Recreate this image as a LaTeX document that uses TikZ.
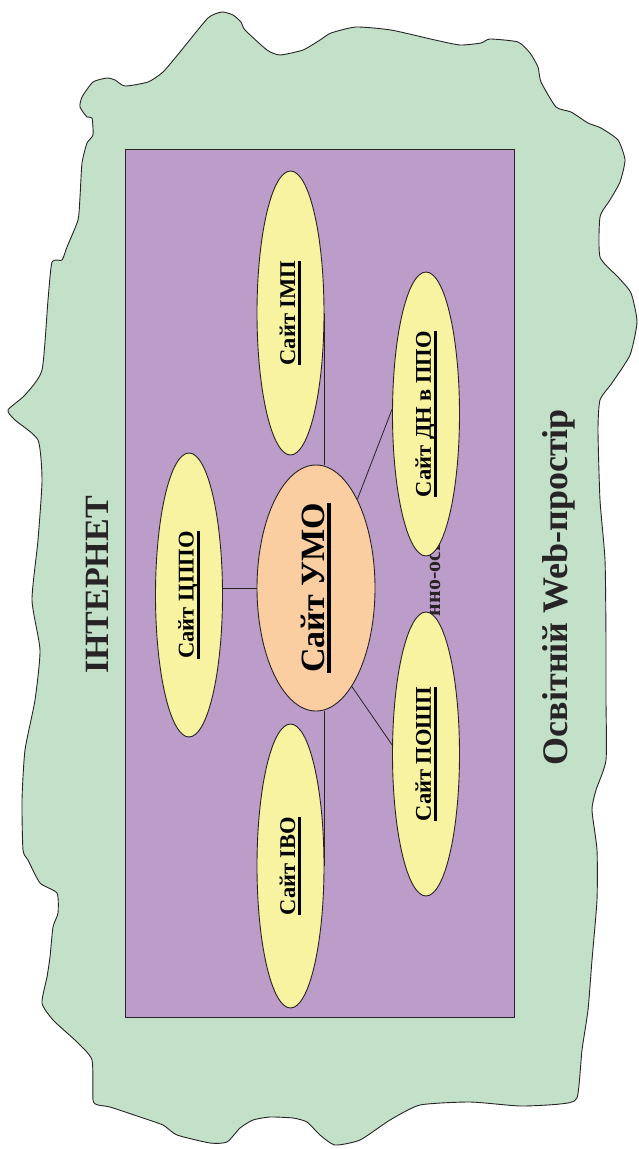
\documentclass[tikz,border=0pt]{standalone}
\usepackage{fontspec}
\setmainfont{Liberation Serif}
\usepackage{graphicx}
\usetikzlibrary{shapes.geometric}
\definecolor{blobgreen}{RGB}{194,225,200}
\definecolor{boxpurple}{RGB}{188,157,201}
\definecolor{siteyellow}{RGB}{248,243,160}
\definecolor{umoorange}{RGB}{250,206,160}
\definecolor{edge}{RGB}{40,36,38}
\newcommand{\thul}[3]{\setbox0=\hbox{#1}\rlap{\copy0}\rule[-#2]{\wd0}{#3}}
\begin{document}
\begin{tikzpicture}[x=1pt,y=-1pt,
  site/.style={ellipse, draw=edge, line width=0.9pt, fill=siteyellow,
    minimum width=67pt, minimum height=284pt, inner sep=0pt,
    font=\fontsize{22.5}{26}\selectfont\bfseries},
  link/.style={draw=edge, line width=0.8pt},
  bigtext/.style={inner sep=0pt, text=edge}]
\useasboundingbox (0,0) rectangle (638,1149);
% green cloud
\draw[fill=blobgreen, draw=edge, line width=0.9pt]
  plot[smooth cycle, tension=0.35] coordinates {
  (80,107) (82,97) (93,82) (107,78) (115,80) (125,86) (148,82) (163,72) (180,52)
  (208,18) (222,12) (233,15) (241,22) (245,30) (267,50) (280,55) (303,50) (320,40)
  (331,33) (356,27) (391,30) (435,40) (460,45) (481,43) (490,39) (518,42) (530,53)
  (538,67) (541,82) (556,107) (571,112) (588,123) (601,128) (618,140) (625,160)
  (620,182) (610,200) (600,217) (600,257) (618,277) (631,293)
  (637,322) (630,355) (612,383) (600,400) (598,430) (600,500) (605,560) (606,640)
  (606,700) (606,760) (596,790) (592,810) (597,850) (597,900) (592,960) (588,1010)
  (582,1050) (577,1098) (560,1104) (520,1106) (470,1102) (420,1105) (390,1120)
  (360,1140) (335,1145) (320,1135)
  (307,1122) (293,1118) (270,1117) (253,1120) (240,1128) (227,1142) (210,1143)
  (177,1135) (163,1125) (140,1117) (110,1107) (98,1105) (93,1100) (92,1060)
  (77,1042) (53,1020) (42,1003) (47,977) (50,957) (53,927) (58,913) (57,893)
  (40,883) (28,860) (23,850)
  (22,800) (25,750) (35,700) (40,650) (32,600) (38,540) (42,480) (38,440)
  (15,420) (8,410) (25,395) (42,370) (48,300) (52,262) (62,260) (67,247)
  (78,220) (80,197) (82,163) (87,143) (93,135) (92,118) (87,117)};
% purple box
\node[draw=edge, line width=0.9pt, fill=boxpurple, inner sep=0pt, anchor=north west,
  minimum width=389pt, minimum height=868pt] (box) at (125,149) {};
% titles
\node[bigtext, font=\fontsize{34}{40}\selectfont\bfseries] (inet) at (97,585)
  {\rotatebox{90}{ІНТЕРНЕТ}};
\node[bigtext, font=\fontsize{36}{42}\selectfont\bfseries] (web) at (559,587)
  {\rotatebox{90}{Освітній Web-простір}};
% partly hidden label
\node[bigtext, font=\fontsize{22}{26}\selectfont\bfseries] (hid) at (435,578)
  {\rotatebox{90}{нно-осв}};
% sites
\node[ellipse, draw=edge, line width=0.9pt, fill=umoorange, minimum width=118pt,
  minimum height=246pt, inner sep=0pt, font=\fontsize{34}{40}\selectfont\bfseries]
  (umo) at (316,588) {\rotatebox{90}{\thul{Сайт УМО}{7pt}{4pt}}};
\node[site] (imp) at (290.5,313) {\rotatebox{90}{\thul{Сайт ІМП}{6pt}{3pt}}};
\node[site] (dn) at (426,414) {\rotatebox{90}{\thul{Сайт ДН в ППО}{6pt}{3pt}}};
\node[site] (posh) at (426,754) {\rotatebox{90}{\thul{Сайт ПОШП}{6pt}{3pt}}};
\node[site] (cppo) at (189,595) {\rotatebox{90}{\thul{Сайт ЦППО}{6pt}{3pt}}};
\node[site] (ivo) at (290.5,866) {\rotatebox{90}{\thul{Сайт ІВО}{6pt}{3pt}}};
% connectors
\draw[link] (imp.east) -- (imp.east |- umo.north);
\draw[link] (ivo.east) -- (ivo.east |- umo.south);
\draw[link] (cppo.east |- umo.west) -- (umo.west);
\draw[link] (umo.65) -- (dn.172);
\draw[link] (umo.-70) -- (posh.165);
\end{tikzpicture}
\end{document}
